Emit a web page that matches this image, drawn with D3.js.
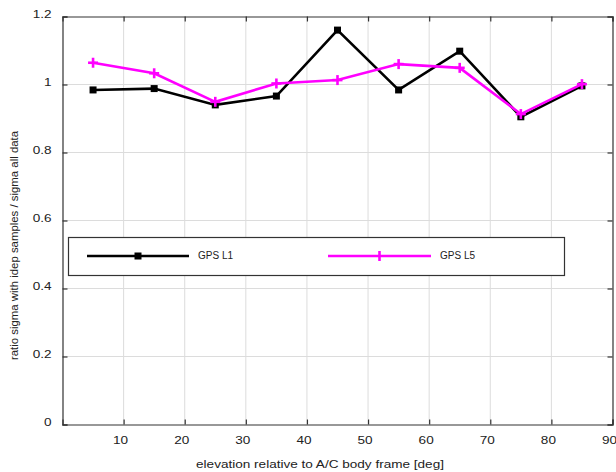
<!DOCTYPE html>
<html><head><meta charset="utf-8">
<script src="https://cdn.jsdelivr.net/npm/d3@7"></script>
<style>body{margin:0;background:#fff;} text{font-family:"Liberation Sans",Arial,sans-serif;}</style>
</head><body>
<svg id="c" width="616" height="472"></svg>
<script>
const elevations = [5,15,25,35,45,55,65,75,85];
const gpsL1 = [0.984,0.988,0.940,0.966,1.160,0.984,1.098,0.905,0.996];
const gpsL5 = [1.064,1.033,0.949,1.003,1.013,1.060,1.049,0.913,1.001];
const xTicks = [10,20,30,40,50,60,70,80,90];
const yTicks = [0,0.2,0.4,0.6,0.8,1,1.2];
const seriesNames = ["GPS L1","GPS L5"];

const svg = d3.select("#c");
const L=62.5, R=612.5, T=16.5, B=424.5;
const SX = 1.18;
const x = d3.scaleLinear().domain([0,90]).range([L,R]);
const y = d3.scaleLinear().domain([0,1.2]).range([B,T]);

// grid
const g = svg.append("g");
g.selectAll(".vg").data(xTicks.slice(0,-1)).join("line")
  .attr("x1",d=>x(d)).attr("x2",d=>x(d)).attr("y1",T).attr("y2",B)
  .attr("stroke","#dcdcdc").attr("stroke-width",1);
g.selectAll(".hg").data(yTicks.slice(1,-1)).join("line")
  .attr("x1",L).attr("x2",R).attr("y1",d=>y(d)).attr("y2",d=>y(d))
  .attr("stroke","#dcdcdc").attr("stroke-width",1);

// axes
const fmt = d3.format("~g");
const xb = svg.append("g").attr("transform",`translate(0,${B})`)
  .call(d3.axisBottom(x).tickValues(xTicks).tickSize(-5).tickPadding(11).tickFormat(fmt));
const xt = svg.append("g").attr("transform",`translate(0,${T})`)
  .call(d3.axisTop(x).tickValues(xTicks).tickSize(-5).tickFormat(""));
const yl = svg.append("g").attr("transform",`translate(${L},0)`)
  .call(d3.axisLeft(y).tickValues(yTicks).tickSize(-5).tickPadding(11).tickFormat(fmt));
const yr = svg.append("g").attr("transform",`translate(${R},0)`)
  .call(d3.axisRight(y).tickValues(yTicks).tickSize(-5).tickFormat(""));
[xb,xt,yl,yr].forEach(a=>{
  a.select(".domain").attr("stroke","#333").attr("stroke-width",1.2);
  a.selectAll(".tick line").attr("stroke","#333").attr("stroke-width",1.2);
  a.selectAll("text").attr("font-size",11.5).attr("fill","#222").attr("font-family","Liberation Sans, Arial, sans-serif");
});
xb.selectAll(".tick text").attr("x",-3.5/SX).attr("transform",`scale(${SX},1)`);
yl.selectAll(".tick text").attr("x",-11/SX).attr("dy","0.32em").attr("y",-3).attr("transform",`scale(${SX},1)`);

// labels
svg.append("text").attr("transform",`translate(320,468) scale(${SX},1)`).attr("text-anchor","middle")
  .attr("font-size",11.5).attr("fill","#222").text("elevation relative to A/C body frame [deg]");
svg.append("text").attr("transform",`translate(18,245.5) rotate(-90)`).attr("text-anchor","middle")
  .attr("font-size",11.4).attr("fill","#222").text("ratio sigma with idep samples / sigma all data");

const line = d3.line().x((d,i)=>x(elevations[i])).y(d=>y(d));
// L1
svg.append("path").datum(gpsL1).attr("d",line).attr("fill","none").attr("stroke","#000").attr("stroke-width",2.6);
svg.selectAll(".sq").data(gpsL1).join("rect")
  .attr("x",(d,i)=>x(elevations[i])-3.5).attr("y",d=>y(d)-3.5).attr("width",7).attr("height",7).attr("fill","#000");
// L5
const mag="#ff00ff";
svg.append("path").datum(gpsL5).attr("d",line).attr("fill","none").attr("stroke",mag).attr("stroke-width",2.6);
const pl = svg.append("g");
gpsL5.forEach((d,i)=>{
  const cx=x(elevations[i]), cy=y(d);
  pl.append("line").attr("x1",cx-5).attr("x2",cx+5).attr("y1",cy).attr("y2",cy).attr("stroke",mag).attr("stroke-width",2.6);
  pl.append("line").attr("x1",cx).attr("x2",cx).attr("y1",cy-5).attr("y2",cy+5).attr("stroke",mag).attr("stroke-width",2.6);
});

// legend
const lg = svg.append("g");
lg.append("rect").attr("x",68.5).attr("y",237.5).attr("width",496).attr("height",38)
  .attr("fill","#fff").attr("stroke","#333").attr("stroke-width",1.2);
const ly=256;
lg.append("line").attr("x1",87).attr("x2",189).attr("y1",ly).attr("y2",ly).attr("stroke","#000").attr("stroke-width",2.6);
lg.append("rect").attr("x",138-3.5).attr("y",ly-3.5).attr("width",7).attr("height",7).attr("fill","#000");
lg.append("text").attr("x",198).attr("y",ly+2.5).attr("font-size",10).attr("fill","#222").text(seriesNames[0]);
lg.append("line").attr("x1",328).attr("x2",431).attr("y1",ly).attr("y2",ly).attr("stroke",mag).attr("stroke-width",2.6);
lg.append("line").attr("x1",379.5).attr("x2",379.5).attr("y1",ly-5).attr("y2",ly+5).attr("stroke",mag).attr("stroke-width",2.6);
lg.append("text").attr("x",440).attr("y",ly+2.5).attr("font-size",10).attr("fill","#222").text(seriesNames[1]);
</script>
</body></html>
